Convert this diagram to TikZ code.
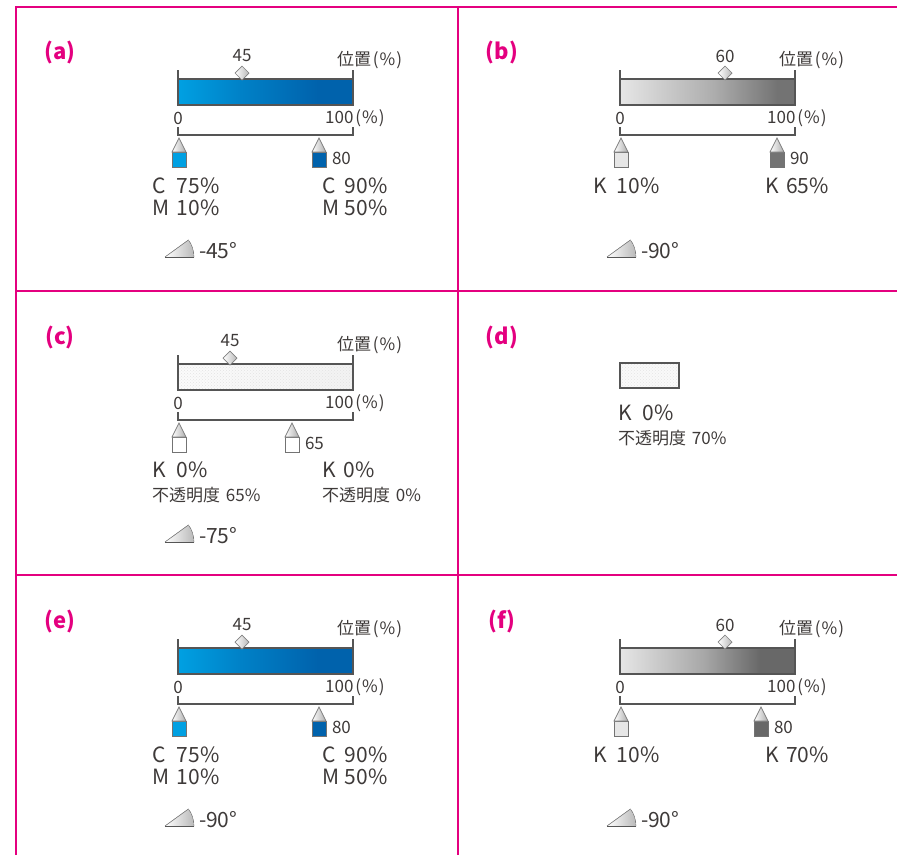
\documentclass[tikz,border=0pt]{standalone}
\usepackage{fontspec}
\setmainfont{Noto Sans CJK JP}
\usetikzlibrary{patterns,shapes.geometric}
\definecolor{frame}{RGB}{228,0,127}
\definecolor{txt}{RGB}{62,58,57}
\definecolor{ln}{RGB}{85,85,85}
\definecolor{cAa}{RGB}{0,160,226}
\definecolor{cAb}{RGB}{0,98,172}
\colorlet{cAm}{cAa!50!cAb}
\definecolor{kTen}{RGB}{230,230,230}
\definecolor{kSixFive}{RGB}{115,115,115}
\definecolor{kSeventy}{RGB}{104,104,104}
\colorlet{kMb}{kTen!50!kSixFive}
\colorlet{kMf}{kTen!50!kSeventy}
\pgfdeclarehorizontalshading{shA}{100bp}{color(0bp)=(cAa); color(25bp)=(cAa); color(43bp)=(cAm); color(65bp)=(cAb); color(100bp)=(cAb)}
\pgfdeclarehorizontalshading{shB}{100bp}{color(0bp)=(kTen); color(25bp)=(kTen); color(52bp)=(kMb); color(70bp)=(kSixFive); color(100bp)=(kSixFive)}
\pgfdeclarehorizontalshading{shF}{100bp}{color(0bp)=(kTen); color(25bp)=(kTen); color(49bp)=(kMf); color(65bp)=(kSeventy); color(100bp)=(kSeventy)}

\newcommand\barscale[4]{%
  \draw[tk] (178,70) -- (178,79) (353,70) -- (353,79);
  \node[sm] (#1mid) at (#2,56) {#3};
  \node[sm,anchor=west] (#1pos) at (337,60) {位置\kern2pt(\kern1pt\%\kern1pt)};
  \node[barbox,#4] (#1bar) at (265.5,92) {};
  \node[dia] (#1dia) at (#2,73) {};
  \node[sm] (#1zero) at (178,118) {0};
  \node[sm,anchor=west] (#1hund) at (353.5,118) {\llap{100}\kern2pt(\kern1pt\%\kern1pt)};
  \draw[tk] (178,127) -- (178,135) -- (353,135) -- (353,127);
}
\newcommand\stopmark[3]{%
  \node[sq, fill=#3] (#1) at (#2,159.5) {};
  \draw[tri] (#1.north west) -- ++(7,-14) -- (#1.north east) -- cycle;
}
\newcommand\stoplabel[3]{%
  \node[sm, anchor=west] (#1) at ({#2+13},158) {#3};
}
\newcommand\angicon[2]{%
  \coordinate (#1o) at (165,257);
  \fill[left color=white, right color=gray!55] (#1o) -- ++(29,0) arc[start angle=0, end angle=-36, radius=29] -- cycle;
  \draw[ln, line width=0.5pt, densely dotted] ([shift={(29,0)}]#1o) arc[start angle=0, end angle=-36, radius=29];
  \draw[gray, line width=0.6pt] (#1o) -- ++(-36:29);
  \draw[ln, line width=0.9pt] (#1o) -- ++(29,0);
  \node[big, anchor=west] (#1t) at (199,251) {#2};
}

\begin{document}
\begin{tikzpicture}[x=1pt,y=-1pt,
  every node/.style={text=txt, inner sep=0pt, outer sep=0pt},
  big/.style={font=\fontsize{21}{21}\selectfont},
  sm/.style={font=\fontsize{17}{17}\selectfont},
  lbl/.style={font=\fontsize{22}{22}\selectfont\bfseries, text=frame},
  tk/.style={draw=ln, line width=1.1pt},
  barbox/.style={draw=ln, line width=1.3pt, minimum width=175pt, minimum height=26pt},
  dia/.style={diamond, draw=gray, line width=0.7pt, minimum width=14pt, minimum height=14pt, left color=white, right color=gray!55},
  sq/.style={draw=gray!90!black, line width=0.8pt, minimum width=14pt, minimum height=15pt},
  tri/.style={draw=gray, line width=0.7pt, left color=white, right color=gray!65},
  fr/.style={draw=frame, line width=2pt}
]
\useasboundingbox (0,0) rectangle (897,855);
% frame
\draw[fr] (16,855) -- (16,7) -- (897,7);
\draw[fr] (16,291) -- (897,291);
\draw[fr] (16,575) -- (897,575);
\draw[fr] (458,7) -- (458,855);

% (a)
\node[lbl] (la) at (60,52) {(a)};
\barscale{a}{242}{45}{shade, shading=shA}
\stopmark{as1}{179}{cAa}
\stopmark{as2}{319}{cAb}
\stoplabel{as2l}{319}{80}
\node[big,anchor=west] (ac1) at (152,186) {\makebox[25pt][l]{C}75\%};
\node[big,anchor=west] (am1) at (152,208) {\makebox[25pt][l]{M}10\%};
\node[big,anchor=west] (ac2) at (322,186) {\makebox[23pt][l]{C}90\%};
\node[big,anchor=west] (am2) at (322,208) {\makebox[23pt][l]{M}50\%};
\angicon{aa}{-45°}

% (b)
\begin{scope}[shift={(442,0)}]
\node[lbl] (lb) at (60,52) {(b)};
\barscale{b}{283}{60}{shade, shading=shB}
\stopmark{bs1}{179}{kTen}
\stopmark{bs2}{335}{kSixFive}
\stoplabel{bs2l}{335}{90}
\node[big,anchor=west] (bk1) at (151,186) {\makebox[24pt][l]{K}10\%};
\node[big,anchor=west] (bk2) at (323,186) {\makebox[21pt][l]{K}65\%};
\angicon{ba}{-90°}
\end{scope}

% (c)
\begin{scope}[shift={(0,285)}]
\node[lbl] (lc) at (60,52) {(c)};
\barscale{c}{230}{45}{preaction={left color=gray!3, right color=gray!10}, pattern=crosshatch dots, pattern color=gray!22}
\stopmark{cs1}{179}{white}
\stopmark{cs2}{292}{white}
\stoplabel{cs2l}{292}{65}
\node[big,anchor=west] (ck1) at (152,185) {\makebox[25pt][l]{K}0\%};
\node[sm,anchor=west] (co1) at (152,210) {不透明度\kern6pt 65\%};
\node[big,anchor=west] (ck2) at (322,185) {\makebox[22pt][l]{K}0\%};
\node[sm,anchor=west] (co2) at (322,210) {不透明度\kern6pt 0\%};
\angicon{ca}{-75°}
\end{scope}

% (d)
\begin{scope}[shift={(442,285)}]
\node[lbl] (ld) at (60,52) {(d)};
\node[draw=ln, line width=1.2pt, minimum width=59pt, minimum height=25pt, preaction={fill=gray!5}, pattern=crosshatch dots, pattern color=gray!20] (dbox) at (207.5,90.5) {};
\node[big,anchor=west] (dk) at (176,128) {\makebox[25pt][l]{K}0\%};
\node[sm,anchor=west] (do) at (176,153) {不透明度\kern6pt 70\%};
\end{scope}

% (e)
\begin{scope}[shift={(0,569)}]
\node[lbl] (le) at (60,52) {(e)};
\barscale{e}{242}{45}{shade, shading=shA}
\stopmark{es1}{179}{cAa}
\stopmark{es2}{319}{cAb}
\stoplabel{es2l}{319}{80}
\node[big,anchor=west] (ec1) at (152,186) {\makebox[25pt][l]{C}75\%};
\node[big,anchor=west] (em1) at (152,208) {\makebox[25pt][l]{M}10\%};
\node[big,anchor=west] (ec2) at (322,186) {\makebox[23pt][l]{C}90\%};
\node[big,anchor=west] (em2) at (322,208) {\makebox[23pt][l]{M}50\%};
\angicon{ea}{-90°}
\end{scope}

% (f)
\begin{scope}[shift={(442,569)}]
\node[lbl] (lf) at (60,52) {(f)};
\barscale{f}{283}{60}{shade, shading=shF}
\stopmark{fs1}{179}{kTen}
\stopmark{fs2}{319}{kSeventy}
\stoplabel{fs2l}{319}{80}
\node[big,anchor=west] (fk1) at (151,186) {\makebox[24pt][l]{K}10\%};
\node[big,anchor=west] (fk2) at (323,186) {\makebox[21pt][l]{K}70\%};
\angicon{fa}{-90°}
\end{scope}
\end{tikzpicture}
\end{document}
